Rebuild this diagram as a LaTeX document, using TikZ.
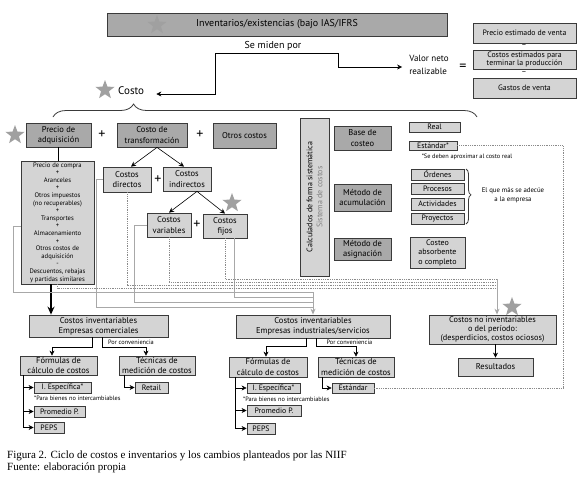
\documentclass[tikz,border=0pt]{standalone}
\usepackage{fontspec}
\setmainfont{PT Sans}
\newfontfamily\capfont{Liberation Serif}
\usetikzlibrary{shapes.geometric,arrows.meta,decorations.pathreplacing,calc}
\definecolor{dfill}{HTML}{A9A9A9}
\definecolor{lfill}{HTML}{D4D4D4}
\definecolor{bord}{HTML}{3A3A3A}
\definecolor{starc}{HTML}{A0A0A0}
\definecolor{gline}{HTML}{A8A8A8}
\definecolor{dline}{HTML}{8A8A8A}
\newcommand\mybox[7]{\node[#2,minimum width={(#5-#3)*1pt},minimum height={(#6-#4)*1pt}] (#1) at ({(#3+#5)/2},{(#4+#6)/2}) {#7};}
\tikzset{
 box/.style={draw=bord,line width=0.8pt,align=center,inner sep=0pt,font=\fontsize{8.5}{10.2}\selectfont},
 dbox/.style={box,fill=dfill},
 lbox/.style={box,fill=lfill},
 sbox/.style={lbox,font=\fontsize{7.8}{9}\selectfont},
 starsh/.style={star,star points=5,star point ratio=2.4,minimum size=20pt,inner sep=0pt,fill=starc},
 plus/.style={font=\fontsize{14}{14}\selectfont,inner sep=0pt},
 conn/.style={draw=black,line width=0.6pt},
 arr/.style={conn,-{Stealth[length=5pt,width=5pt]}},
 gl/.style={draw=gline,line width=0.9pt},
 dl/.style={draw=dline,line width=0.7pt,dash pattern=on 1pt off 0.8pt},
 note/.style={font=\fontsize{6.3}{7.5}\selectfont,inner sep=0pt,align=center},
 brc/.style={draw=bord,line width=0.8pt,decorate},
 captxt/.style={anchor=base west,inner sep=0pt,font=\capfont\fontsize{11}{13}\selectfont},
}
\begin{document}
\begin{tikzpicture}[x=1pt,y=-1pt]
\useasboundingbox (0,0) rectangle (580,485);
% top
\mybox{title}{dbox,font=\fontsize{10}{12}\selectfont}{107}{13}{447}{36}{Inventarios/existencias (bajo IAS/IFRS}
\node[starsh] (st1) at (157,25) {};
\node[font=\fontsize{10}{12}\selectfont,inner sep=0pt] (semiden) at (273,46) {Se miden por};
\node[font=\fontsize{11}{13}\selectfont,inner sep=0pt,anchor=base west] (costo) at (118,94) {Costo};
\node[starsh] (st2) at (105,90) {};
\node[font=\fontsize{9}{12.5}\selectfont,inner sep=0pt,align=left] (vnr) at (429,65) {Valor neto\\realizable};
\node[font=\fontsize{14}{14}\selectfont,inner sep=0pt] (eq) at (463,67) {=};
\mybox{pev}{sbox}{473}{23}{576}{43}{Precio estimado de venta}
\node[font=\fontsize{8}{8}\selectfont,inner sep=0pt] (m1) at (524,46.5) {–};
\mybox{cep}{sbox,font=\fontsize{7.8}{8.6}\selectfont}{473}{50}{576}{69}{Costos estimados para\\terminar la producción}
\node[font=\fontsize{8}{8}\selectfont,inner sep=0pt] (m2) at (524,73.5) {–};
\mybox{gv}{sbox}{473}{78}{576}{98}{Gastos de venta}
\coordinate (smL) at (215,53);
\coordinate (smR) at (338,53);
\draw[conn] (smL) -- (smR);
\draw[arr] (smL) |- ([xshift=12pt]costo.base east);
\draw[arr] (smR) |- ([xshift=-7pt,yshift=-2pt]vnr.west);
% brace
\draw[brc,decoration={brace,amplitude=13pt,aspect=0.19}] (53,117) -- (477,117);
% row 1
\mybox{pa}{dbox}{26}{123}{91}{147}{Precio de\\adquisición}
\node[starsh] (st3) at (15,135) {};
\node[plus] (p1) at (102,135) {+};
\mybox{ct}{dbox}{117}{123}{187}{147}{Costo de\\transformación}
\node[plus] (p2) at (200,135) {+};
\mybox{oc}{dbox}{213}{123}{276}{148}{Otros costos}
\mybox{lst}{lbox,font=\fontsize{6.6}{7.6}\selectfont}{21}{161}{94}{284}{Precio de compra\\+\\Aranceles\\+\\Otros impuestos\\(no recuperables)\\+\\Transportes\\+\\Almacenamiento\\+\\Otros costos de\\adquisición\\-\\Descuentos, rebajas\\y partidas similares}
\draw[conn] (pa.south) -- (pa.south |- lst.north);
\mybox{cd}{lbox}{103}{167}{151}{192}{Costos\\directos}
\node[plus] (p3) at (158,180) {+};
\mybox{ci}{lbox}{163}{167}{211}{191}{Costos\\indirectos}
\mybox{cv}{lbox}{147}{213}{191}{237}{Costos\\variables}
\node[plus] (p4) at (197,225) {+};
\mybox{cf}{lbox}{203}{214}{247}{238}{Costos\\fijos}
\node[starsh] (st4) at (232,203) {};
\draw[arr] ([xshift=5pt]ct.south) -- ([xshift=4pt]cd.north);
\draw[arr] ([xshift=5pt]ct.south) -- ([xshift=-3pt]ci.north);
\draw[arr] ([xshift=10pt]ci.south) -- (cv.north);
\draw[arr] ([xshift=10pt]ci.south) -- (cf.north);
% right system
\node[lbox,minimum width=29pt,minimum height=158pt] (vb) at (314.5,197) {};
\node[rotate=90,align=center,font=\fontsize{8}{10}\selectfont,inner sep=0pt] (vbt) at (vb.center) {Calculados de forma sistemática\\\textcolor{gray}{Sistema de costos}};
\mybox{bc}{dbox}{334}{126}{391}{150}{Base de\\costeo}
\mybox{real}{sbox}{409}{122}{460}{132}{Real}
\mybox{est1}{sbox}{409}{141}{457}{150}{Estándar*}
\node[note] (n1) at (467,157) {*Se deben aproximar al costo real};
\mybox{ma}{dbox}{334}{184}{391}{211}{Método de\\acumulación}
\mybox{ord}{sbox}{411}{169}{464}{180}{Órdenes}
\mybox{proc}{sbox}{411}{183}{464}{194}{Procesos}
\mybox{act}{sbox}{411}{198}{464}{210}{Actividades}
\mybox{proy}{sbox}{411}{213}{464}{224}{Proyectos}
\draw[brc,decoration={brace,amplitude=5pt,aspect=0.47}] (466,169) -- (466,224);
\node[note,font=\fontsize{6.8}{8.5}\selectfont] (n2) at (513,195) {El que más se adecúe\\a la empresa};
\mybox{mas}{dbox}{334}{238}{391}{260}{Método de\\asignación}
\mybox{cab}{sbox,font=\fontsize{8}{9.5}\selectfont}{410}{237}{465}{268}{Costeo\\absorbente\\o completo}
% bottom boxes
\mybox{comm}{lbox}{29}{315}{168}{337}{Costos inventariables\\Empresas comerciales}
\mybox{ind}{lbox}{236}{315}{390}{338}{Costos inventariables\\Empresas industriales/servicios}
\mybox{cni}{lbox,font=\fontsize{8.3}{9.3}\selectfont}{429}{315}{556}{344}{Costos no inventariables\\o del período:\\(desperdicios, costos ociosos)}
\node[starsh] (st5) at (512,307) {};
\mybox{res}{lbox}{458}{358}{533}{376}{Resultados}
\draw[arr] (res.north |- cni.south) -- (res.north);
% connectors to inventory boxes
\draw[line width=1.3pt,-{Stealth[length=8pt,width=7pt]}] ([xshift=-6.5pt]lst.south) -- ([xshift=-6.5pt]lst.south |- comm.north);
\coordinate (gj) at (313,292);
\draw[gl] ([yshift=-3.5pt]lst.west) -- ++(-7,0) |- (gj);
\draw[gl] ([xshift=9pt]cf.south) |- ([yshift=-5pt]gj);
\draw[gl] (cv.west) -- ++(-12,0) |- ([yshift=-10pt]gj);
\draw[gl] (cd.west) -- ++(-6,0) |- ([yshift=-15pt]gj);
\draw[gl,-{Stealth[length=6pt,width=5pt]}] (gj) -- (ind.north);
\coordinate (dj) at (497,279);
\draw[dl] (cf.south) |- (dj);
\draw[dl] (cv.south) |- ([yshift=-3pt]dj);
\draw[dl] (cd.south) |- ([yshift=-6pt]dj);
\draw[dl] (lst.south) |- ([yshift=-9pt]dj);
\draw[gl,-{Stealth[length=6pt,width=5pt]}] (dj) -- (dj |- cni.north);
% commercial sub-tree
\mybox{fc1}{lbox}{20}{356}{97}{375}{Fórmulas de\\cálculo de costos}
\mybox{tm1}{lbox}{119}{356}{195}{375}{Técnicas de\\medición de costos}
\mybox{ret}{sbox}{135}{382}{168}{393}{Retail}
\draw[arr] ([xshift=-6.5pt]comm.south) -- ++(0,10) -| ([xshift=-6.5pt]fc1.north);
\draw[arr] ([xshift=3.5pt]comm.south) -- ++(0,10) -| ([xshift=-11pt]tm1.north);
\node[note] (pc1) at (131,342.5) {Por conveniencia};
\draw[arr] ([xshift=6pt]tm1.south west) |- (ret.west);
\mybox{ie1}{sbox}{34}{382}{91}{393}{I. Específica*}
\node[note,anchor=west] (n3) at (34,398) {*Para bienes no intercambiables};
\mybox{pp1}{sbox}{34}{406}{85}{417}{Promedio P.}
\mybox{peps1}{sbox}{34}{422}{64}{433}{PEPS}
\coordinate (fl1) at ([xshift=4pt]fc1.south west);
\draw[arr] (fl1) |- (peps1.west);
\draw[arr] (fl1 |- ie1.west) -- (ie1.west);
\draw[arr] (fl1 |- pp1.west) -- (pp1.west);
% industrial sub-tree
\mybox{fc2}{lbox}{229}{357}{307}{377}{Fórmulas de\\cálculo de costos}
\mybox{tm2}{lbox}{318}{357}{394}{377}{Técnicas de\\medición de costos}
\mybox{est2}{sbox}{332}{383}{374}{393}{Estándar}
\draw[arr] ([xshift=-7pt]ind.south) -- ++(0,8) -| ([xshift=-2pt]fc2.north);
\draw[arr] ([xshift=3pt]ind.south) -- ++(0,8) -| (tm2.north);
\node[note] (pc2) at (349.5,342.5) {Por conveniencia};
\draw[arr] ([xshift=5pt]tm2.south west) |- (est2.west);
\mybox{ie2}{sbox}{247}{383}{300}{393}{I. Específica*}
\node[note,anchor=west] (n4) at (243,399) {*Para bienes no intercambiables};
\mybox{pp2}{sbox}{247}{405}{301}{416}{Promedio P.}
\mybox{peps2}{sbox}{247}{423}{275}{434}{PEPS}
\coordinate (fl2) at (235,377);
\draw[arr] (fl2) |- (peps2.west);
\draw[arr] (fl2 |- ie2.west) -- (ie2.west);
\draw[arr] (fl2 |- pp2.west) -- (pp2.west);
% estandar dashed
\coordinate (er) at (563,388);
\draw[dl] (est1.east) -| (er) -- (est2.east);
% caption
\node[captxt] (cap1) at (7,458) {Figura 2. Ciclo de costos e inventarios y los cambios planteados por las NIIF};
\node[captxt] (cap2) at (7,470) {Fuente: elaboración propia};
\end{tikzpicture}
\end{document}
